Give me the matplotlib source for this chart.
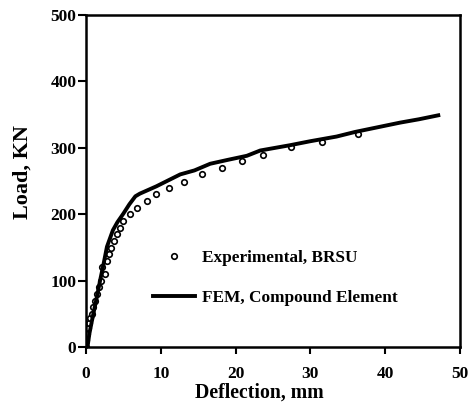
import matplotlib
matplotlib.use("Agg")
import matplotlib.pyplot as plt

plt.rcParams['font.family'] = ['Liberation Serif', 'DejaVu Serif']
plt.rcParams['font.weight'] = 'bold'

# experimental points (BRSU)
exp_x = [0.0, 0.05, 0.15, 0.3, 0.45, 0.6, 0.8, 1.0, 1.2, 1.45, 1.7, 2.0, 2.5, 2.1, 2.8,
         3.1, 3.3, 3.7, 4.1, 4.6, 5.0, 5.9, 6.8, 8.1, 9.4, 11.1, 13.1, 15.5, 18.2,
         20.8, 23.7, 27.4, 31.6, 36.3]
exp_y = [0, 10, 20, 28, 36, 43, 50, 60, 70, 80, 90, 100, 110, 120, 130,
         140, 149, 159, 170, 179, 190, 200, 210, 220, 231, 240, 249, 260, 269,
         280, 289, 301, 309, 321]

# FEM, compound element
fem_x = [0.2, 0.45, 0.8, 1.0, 1.5, 1.9, 2.4, 2.8, 3.6, 4.2, 5.0, 5.8, 6.6, 7.2, 9.4,
         11.0, 12.6, 14.5, 16.6, 19.0, 21.5, 23.3, 27.3, 30.0, 33.5, 36.0, 39.0,
         42.0, 44.5, 47.1]
fem_y = [0, 20, 40, 51, 78, 101, 128, 151, 176, 188, 201, 215, 227, 231, 242,
         251, 260, 266, 276, 282, 288, 296, 304, 310, 317, 324, 331, 338, 343, 349]

fig = plt.figure(figsize=(4.71, 4.07), dpi=100)
ax = fig.add_axes([0.1826, 0.1474, 0.794, 0.8156])

ax.plot(exp_x, exp_y, 'o', ms=4, mfc='white', mec='black', mew=1.2,
        label='Experimental, BRSU')
ax.plot(fem_x, fem_y, '-', color='black', lw=2.8, label='FEM, Compound Element')

ax.set_xlim(0, 50)
ax.set_ylim(0, 500)
ax.set_xticks([0, 10, 20, 30, 40, 50])
ax.set_yticks([0, 100, 200, 300, 400, 500])

for s in ax.spines.values():
    s.set_linewidth(1.8)
ax.tick_params(axis='x', direction='out', length=5, width=1.5, pad=9, labelsize=12.5)
ax.tick_params(axis='y', direction='out', length=6, width=1.5, pad=1, labelsize=12.5)
for lab in ax.get_xticklabels() + ax.get_yticklabels():
    lab.set_fontweight('bold')

ax.set_xlabel('Deflection, mm', fontsize=14.2, fontweight='bold')
ax.set_ylabel('Load, KN', fontsize=16, fontweight='bold')
ax.xaxis.set_label_coords(0.4626, -0.108)
ax.yaxis.set_label_coords(-0.142, 0.527)

ax.legend(loc='upper left', bbox_to_anchor=(0.162, 0.314), frameon=False,
          handlelength=2.4, labelspacing=1.4, handletextpad=0.4,
          borderaxespad=0, prop={'size': 12.4, 'weight': 'bold'})

fig.savefig('out.png', dpi=100)
